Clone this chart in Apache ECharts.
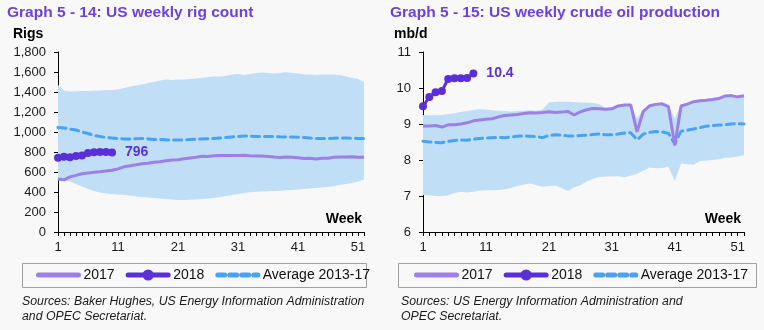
<!DOCTYPE html>
<html>
<head>
<meta charset="utf-8">
<script src="https://cdn.jsdelivr.net/npm/echarts@6/dist/echarts.min.js"></script>
<style>
  html, body { margin: 0; padding: 0; background: #f8f8f8; }
  #chart { width: 764px; height: 330px; }
</style>
</head>
<body>
<div id="chart"></div>
<script>
// Week numbers on the x axis (1..52)
const weeks = Array.from({ length: 52 }, (_, i) => String(i + 1));

// Graph 5-14: US weekly rig count
const rigRangeLow = [520,515,505,480,455,430,410,395,385,380, 375,370,365,355,350,345,340,335,330,325,
  320,320,322,325,330,335,340,350,360,370, 380,390,398,402,405,408,410,413,418,420,
  425,430,435,440,445,450,460,470,480,490, 505,525];
const rigRangeHigh = [1470,1415,1405,1405,1410,1410,1412,1415,1420,1420, 1425,1440,1455,1465,1475,1490,1500,1515,1525,1520,
  1525,1525,1530,1535,1540,1550,1555,1555,1560,1575, 1580,1570,1580,1590,1595,1590,1585,1590,1600,1590,
  1585,1575,1575,1570,1575,1575,1575,1570,1555,1540, 1530,1500];
const rigAvg = [1045,1040,1030,1020,1000,985,965,955,945,940, 935,930,930,932,935,930,925,925,922,920,
  920,922,925,928,930,932,935,940,945,950, 955,960,958,955,955,955,955,952,950,950,
  948,945,940,935,935,935,938,940,940,938, 935,935];
const rig2017 = [529,522,551,566,583,591,597,602,609,617, 631,652,662,672,683,688,697,703,712,720,
  722,733,741,747,758,756,763,765,764,766, 765,768,763,759,759,756,749,744,750,748,
  743,736,737,729,738,738,747,749,751,752, 747,747];
const rig2018 = [742,752,747,759,765,791,798,799,800,796];

// Graph 5-15: US weekly crude oil production (mb/d)
const oilRangeLow = [7.03,7.02,7.00,6.99,7.02,7.08,7.12,7.10,7.12,7.15, 7.16,7.16,7.17,7.19,7.22,7.28,7.32,7.35,7.30,7.26,
  7.28,7.29,7.22,7.14,7.24,7.30,7.40,7.47,7.53,7.54, 7.54,7.55,7.52,7.56,7.62,7.70,7.79,7.77,7.78,7.82,
  7.42,7.90,7.88,7.87,7.97,7.98,8.00,8.02,8.06,8.07, 8.10,8.13];
const oilRangeHigh = [9.25,9.24,9.24,9.25,9.28,9.30,9.33,9.36,9.39,9.41, 9.40,9.38,9.37,9.36,9.35,9.36,9.37,9.38,9.37,9.40,
  9.60,9.62,9.62,9.62,9.61,9.60,9.60,9.58,9.55,9.45, 9.46,9.52,9.55,9.55,9.15,9.40,9.52,9.56,9.57,9.50,
  9.15,9.52,9.56,9.62,9.65,9.66,9.68,9.71,9.78,9.79, 9.76,9.78];
const oilAvg = [8.52,8.50,8.49,8.48,8.52,8.54,8.56,8.55,8.58,8.60, 8.61,8.62,8.63,8.62,8.64,8.66,8.67,8.66,8.65,8.62,
  8.68,8.70,8.69,8.67,8.67,8.68,8.69,8.71,8.72,8.70, 8.70,8.72,8.75,8.76,8.56,8.72,8.77,8.79,8.78,8.74,
  8.45,8.80,8.83,8.86,8.90,8.94,8.96,8.97,8.98,9.00, 9.01,9.00];
const oil2017 = [8.946,8.946,8.960,8.915,8.978,8.978,9.001,9.032,9.088,9.110, 9.129,9.147,9.199,9.235,9.252,9.265,9.293,9.314,9.305,9.320,
  9.342,9.318,9.330,9.350,9.250,9.338,9.397,9.429,9.423,9.410, 9.423,9.502,9.528,9.530,8.781,9.353,9.505,9.545,9.560,9.480,
  8.404,9.500,9.553,9.620,9.645,9.658,9.682,9.707,9.780,9.789, 9.754,9.782];
const oil2018 = [9.49,9.75,9.88,9.92,10.25,10.27,10.27,10.28,10.4];

const C_BAND = '#c0def6';
const C_2017 = '#9c80e6';
const C_2018 = '#5a2fd6';
const C_AVG = '#4aa3f2';
const C_TITLE = '#6d42da';
const FONT = 'Arial, "Liberation Sans", sans-serif';

const diff = (hi, lo) => hi.map((v, i) => +(v - lo[i]).toFixed(3));

function xAxisFor(gridIndex) {
  return {
    type: 'category', gridIndex, data: weeks, boundaryGap: false,
    axisLine: { lineStyle: { color: '#000', width: 1 } },
    axisTick: { show: true, interval: 0, length: 4, lineStyle: { color: '#000' } },
    axisLabel: { interval: 9, color: '#1a1a1a', fontSize: 13, fontFamily: FONT, margin: 9 },
    splitLine: { show: false }
  };
}
function yAxisFor(gridIndex, min, max, interval, fmt) {
  return {
    type: 'value', gridIndex, min, max, interval,
    axisLine: { show: true, lineStyle: { color: '#000', width: 1 } },
    axisTick: { show: true, length: 4, lineStyle: { color: '#000' } },
    axisLabel: { color: '#1a1a1a', fontSize: 13, fontFamily: FONT, margin: 12, formatter: fmt },
    splitLine: { show: false }
  };
}
function seriesFor(idx, low, high, avg, s2017, s2018, labelFmt) {
  const stack = 'band' + idx;
  return [
    { name: 'rangeLow' + idx, type: 'line', xAxisIndex: idx, yAxisIndex: idx, stack, data: low,
      symbol: 'none', lineStyle: { opacity: 0 }, silent: true, z: 1 },
    { name: 'rangeHigh' + idx, type: 'line', xAxisIndex: idx, yAxisIndex: idx, stack, data: diff(high, low),
      symbol: 'none', lineStyle: { opacity: 0 }, areaStyle: { color: C_BAND, opacity: 1 }, silent: true, z: 1 },
    { name: 'Average 2013-17', type: 'line', xAxisIndex: idx, yAxisIndex: idx, data: avg, symbol: 'none',
      lineStyle: { color: C_AVG, width: 3, type: [8, 5], cap: 'round' }, itemStyle: { color: C_AVG }, z: 3 },
    { name: '2017', type: 'line', xAxisIndex: idx, yAxisIndex: idx, data: s2017, symbol: 'none',
      lineStyle: { color: C_2017, width: 3 }, itemStyle: { color: C_2017 }, z: 4 },
    { name: '2018', type: 'line', xAxisIndex: idx, yAxisIndex: idx, data: s2018,
      symbol: 'circle', symbolSize: 8, showAllSymbol: true,
      lineStyle: { color: C_2018, width: 3 }, itemStyle: { color: C_2018 }, z: 5,
      label: {
        show: true, position: 'right', distance: 9, color: C_2018, fontWeight: 'bold', fontSize: 14, fontFamily: FONT,
        formatter: p => (p.dataIndex === s2018.length - 1 ? labelFmt(p.value) : '')
      } }
  ];
}
function legendFor(left) {
  return {
    left, top: 268, padding: 0, itemWidth: 40, itemHeight: 14, itemGap: 11, selectedMode: false,
    data: [
      { name: '2017', itemStyle: { opacity: 0 } },
      { name: '2018' },
      { name: 'Average 2013-17', itemStyle: { opacity: 0 }, lineStyle: { type: [7, 5], cap: 'round' } }
    ],
    textStyle: { color: '#111', fontSize: 14, fontFamily: FONT },
    lineStyle: { width: 5, cap: 'round' }
  };
}
function txt(x, y, text, opts) {
  return { type: 'text', x, y, silent: true,
    style: Object.assign({ text, fill: '#000', font: 'bold 14px ' + FONT, textAlign: 'left', textVerticalAlign: 'middle' }, opts || {}) };
}

const chart = echarts.init(document.getElementById('chart'), null, { renderer: 'canvas' });
chart.setOption({
  backgroundColor: '#f8f8f8',
  animation: false,
  title: [
    { text: 'Graph 5 - 14: US weekly rig count', left: 7, top: 5, padding: 0,
      textStyle: { color: C_TITLE, fontSize: 15.5, fontWeight: 'bold', fontFamily: FONT } },
    { text: 'Graph 5 - 15: US weekly crude oil production', left: 390, top: 5, padding: 0,
      textStyle: { color: C_TITLE, fontSize: 15.5, fontWeight: 'bold', fontFamily: FONT } }
  ],
  grid: [
    { left: 58, top: 52, width: 306, height: 180 },
    { left: 423, top: 52, width: 321, height: 180 }
  ],
  xAxis: [xAxisFor(0), xAxisFor(1)],
  yAxis: [
    yAxisFor(0, 0, 1800, 200, v => v.toLocaleString('en-US')),
    yAxisFor(1, 6, 11, 1, v => String(v))
  ],
  legend: [legendFor(36), legendFor(414)],
  series: [
    ...seriesFor(0, rigRangeLow, rigRangeHigh, rigAvg, rig2017, rig2018, v => String(v)),
    ...seriesFor(1, oilRangeLow, oilRangeHigh, oilAvg, oil2017, oil2018, v => v.toFixed(1))
  ],
  graphic: [
    txt(13, 34, 'Rigs'),
    txt(394, 34, 'mb/d'),
    txt(283, 97, 'Historical range', { textAlign: 'center' }),
    txt(283, 114, '2013-17', { textAlign: 'center' }),
    txt(532, 155, 'Historical range', { textAlign: 'center' }),
    txt(532, 172, '2013-17', { textAlign: 'center' }),
    txt(362, 219, 'Week', { textAlign: 'right' }),
    txt(741, 219, 'Week', { textAlign: 'right' }),
    { type: 'rect', silent: true, shape: { x: 22.5, y: 263.5, width: 344, height: 24 },
      style: { fill: 'none', stroke: '#a0a0a0', lineWidth: 1 } },
    { type: 'rect', silent: true, shape: { x: 398.5, y: 263.5, width: 358, height: 24 },
      style: { fill: 'none', stroke: '#a0a0a0', lineWidth: 1 } },
    txt(22, 302, 'Sources: Baker Hughes, US Energy Information Administration',
      { font: 'italic 12.3px ' + FONT, fill: '#1a1a1a' }),
    txt(22, 317, 'and OPEC Secretariat.', { font: 'italic 12.3px ' + FONT, fill: '#1a1a1a' }),
    txt(401, 302, 'Sources: US Energy Information Administration and',
      { font: 'italic 12.3px ' + FONT, fill: '#1a1a1a' }),
    txt(401, 317, 'OPEC Secretariat.', { font: 'italic 12.3px ' + FONT, fill: '#1a1a1a' })
  ]
});
</script>
</body>
</html>
